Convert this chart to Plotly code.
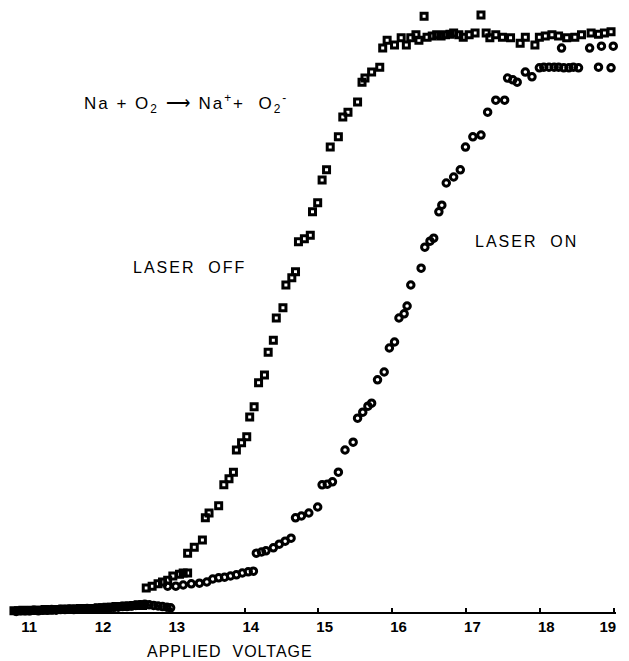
import plotly.graph_objects as go

# ---- data (applied voltage, signal in arbitrary units) ----
off_v = [10.88, 10.94, 11.00, 11.06, 11.12, 11.18, 11.24, 11.30, 11.36, 11.42, 11.48, 11.54, 11.60, 11.66, 11.72,
         11.78, 11.84, 11.90, 11.96, 12.02, 12.08, 12.14, 12.20, 12.26, 12.32, 12.38, 12.44, 12.50, 12.56, 12.62,
         12.67, 12.75, 12.83, 12.89, 12.96, 13.03, 13.12, 13.17, 13.23,
         13.23, 13.32, 13.43, 13.47, 13.52, 13.65, 13.72, 13.79, 13.85, 13.89, 13.96, 14.03, 14.07, 14.13,
         14.19, 14.27, 14.32, 14.39, 14.43, 14.52, 14.56, 14.64, 14.69, 14.73, 14.81, 14.89, 14.92, 14.99,
         15.05, 15.11, 15.16, 15.27, 15.33, 15.40, 15.53, 15.59, 15.63, 15.72, 15.83,
         15.87, 15.93, 16.03, 16.12, 16.19, 16.25, 16.32, 16.36, 16.43, 16.47, 16.54, 16.60, 16.66, 16.72,
         16.78, 16.83, 16.90, 16.96, 17.04, 17.12, 17.20, 17.27, 17.32, 17.40, 17.49, 17.60, 17.73, 17.80,
         17.93, 17.99, 18.07, 18.16, 18.25, 18.36, 18.47, 18.56, 18.69, 18.79, 18.87, 18.96]
off_s = [0.2, 0.2, 0.3, 0.2, 0.3, 0.3, 0.3, 0.4, 0.3, 0.4, 0.4, 0.5, 0.4, 0.5, 0.5,
         0.6, 0.5, 0.6, 0.6, 0.7, 0.7, 0.8, 0.8, 0.9, 0.9, 1.0, 1.0, 1.1, 1.2, 1.1,
         4.0, 4.3, 4.7, 5.0, 5.3, 6.0, 6.3, 6.5, 6.5,
         9.8, 10.8, 12.0, 15.7, 16.5, 17.7, 21.2, 22.2, 23.3, 27.0, 28.2, 29.2, 32.5, 34.2,
         38.2, 39.5, 43.3, 45.3, 49.0, 50.7, 54.5, 55.7, 56.7, 61.7, 62.2, 62.8, 66.7, 68.2,
         72.0, 73.7, 77.5, 79.2, 82.5, 83.3, 85.0, 88.3, 89.0, 90.0, 90.8,
         94.0, 95.3, 94.5, 95.7, 94.5, 95.7, 96.2, 95.3, 99.3, 95.8, 96.0, 96.2, 96.0, 96.2,
         96.3, 96.5, 96.2, 95.8, 96.2, 96.5, 99.5, 96.5, 95.7, 96.2, 95.8, 95.7, 94.8, 95.8,
         94.5, 95.8, 96.0, 96.2, 96.0, 95.7, 95.8, 96.2, 96.5, 96.3, 96.5, 96.7]

on_v = [10.91, 10.97, 11.03, 11.09, 11.15, 11.21, 11.27, 11.33, 11.39, 11.45, 11.51, 11.57, 11.63, 11.69, 11.75,
        11.81, 11.87, 11.93, 11.99, 12.05, 12.11, 12.17, 12.23, 12.29, 12.35, 12.41, 12.47, 12.53, 12.59, 12.65,
        12.71, 12.77, 12.83, 12.89, 12.95, 13.00,
        12.96, 13.07, 13.17, 13.28, 13.39, 13.49, 13.57, 13.65, 13.73, 13.81, 13.89, 13.97, 14.05, 14.12,
        14.16, 14.23, 14.29, 14.39, 14.47, 14.55, 14.63, 14.69, 14.77, 14.87, 14.99, 15.05, 15.12, 15.19,
        15.27, 15.36, 15.47, 15.53, 15.60, 15.67, 15.72, 15.80, 15.89, 15.96, 16.03, 16.09, 16.16, 16.20,
        16.25, 16.39, 16.44, 16.51, 16.56, 16.63, 16.67, 16.73, 16.83, 16.92, 16.99, 17.09, 17.20, 17.29,
        17.40, 17.52, 17.56, 17.63, 17.69, 17.80, 17.89, 17.99, 18.05, 18.12, 18.19, 18.25, 18.29, 18.32,
        18.39, 18.45, 18.52, 18.67, 18.79, 18.83, 18.96, 18.99]
on_s = [0.1, 0.2, 0.2, 0.2, 0.3, 0.2, 0.3, 0.3, 0.4, 0.3, 0.4, 0.4, 0.5, 0.4, 0.5,
        0.5, 0.6, 0.5, 0.6, 0.6, 0.7, 0.7, 0.8, 0.8, 0.9, 0.9, 1.0, 1.1, 1.2, 1.3,
        1.2, 1.1, 1.0, 0.9, 0.8, 0.7,
        4.3, 4.3, 4.5, 4.7, 4.8, 5.0, 5.5, 5.7, 5.8, 6.0, 6.2, 6.5, 6.7, 6.8,
        9.8, 10.0, 10.2, 10.7, 11.3, 11.8, 12.3, 15.7, 16.0, 16.5, 17.5, 21.2, 21.3, 21.7,
        23.3, 27.0, 28.3, 32.3, 33.3, 34.3, 34.8, 38.7, 40.0, 44.0, 45.0, 49.0, 49.7, 51.0,
        54.5, 57.3, 60.8, 61.8, 62.3, 66.7, 67.8, 71.5, 72.5, 73.7, 77.5, 79.2, 79.5, 83.3,
        85.3, 85.3, 89.0, 88.7, 88.3, 90.0, 89.2, 90.7, 90.8, 90.8, 90.8, 90.8, 94.0, 90.7,
        90.7, 90.8, 90.7, 94.0, 90.8, 94.3, 90.7, 94.3]

tick_vals = [11, 12, 13, 14, 15, 16, 17, 18, 19]
NB = "\u00a0\u00a0\u00a0"
tick_text = [NB + str(t) if t < 19 else str(t) + NB for t in tick_vals]

FONT = "Liberation Sans, Arial, sans-serif"

fig = go.Figure()
fig.add_trace(go.Scatter(
    x=off_v, y=off_s, mode="markers", name="LASER OFF", cliponaxis=False,
    marker=dict(symbol="square-open", size=6, color="black", line=dict(width=3, color="black"))))
fig.add_trace(go.Scatter(
    x=on_v, y=on_s, mode="markers", name="LASER ON", cliponaxis=False,
    marker=dict(symbol="circle-open", size=6.5, color="black", line=dict(width=3, color="black"))))

# page body has an 8px default margin: figure is sized to fit the window with it
fig.update_layout(
    width=621, height=653,
    margin=dict(l=5, r=4, t=0, b=49),
    paper_bgcolor="white", plot_bgcolor="white",
    showlegend=False,
    xaxis=dict(range=[10.867, 19.027], showgrid=False, zeroline=False,
               showline=True, linecolor="black", linewidth=2,
               ticks="inside", ticklen=4, tickwidth=2, tickcolor="black",
               tickvals=tick_vals, ticktext=tick_text, ticklabeloverflow="allow",
               tickfont=dict(family=FONT, size=15, color="black", weight="bold")),
    yaxis=dict(range=[0, 100.67], visible=False),
)

def label(txt, x, y, xref="x", yref="y", size=16, ls=2):
    fig.add_annotation(text='<span style="letter-spacing:%spx">' % ls + txt + '</span>',
                       x=x, y=y, xref=xref, yref=yref, showarrow=False,
                       xanchor="center", yanchor="middle",
                       font=dict(family=FONT, size=size, color="black"))

label("Na + O<sub>2</sub> ⟶ Na<sup>+</sup>+  O<sub>2</sub><sup>-</sup>", 13.21, 84.8, size=17)
label("LASER  OFF", 13.25, 57.5)
label("LASER  ON", 17.82, 61.7)
label("APPLIED  VOLTAGE", 0.36, -0.0662, xref="paper", yref="paper", ls=1)

fig.write_html("out.html")
